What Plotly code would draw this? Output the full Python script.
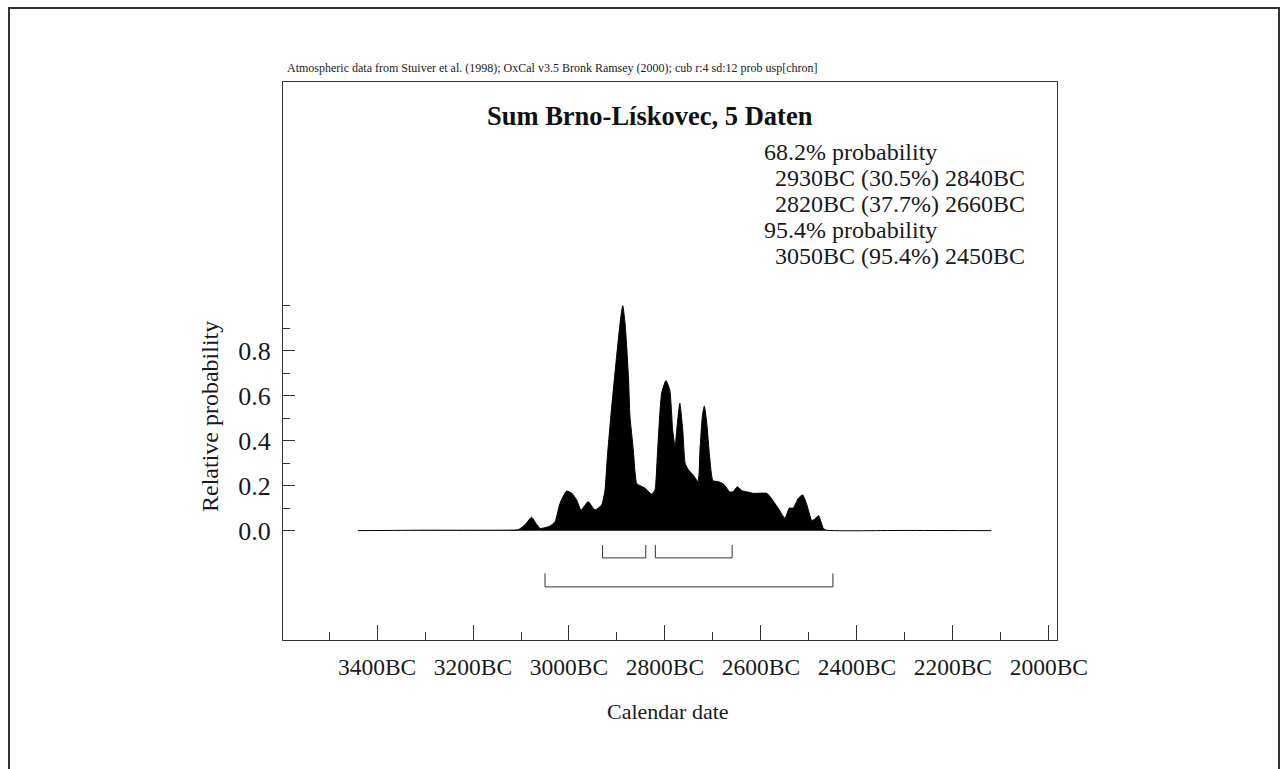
import plotly.graph_objects as go

# ---- data (calendar years BC, relative probability) ----
years_bc = [3440, 3300, 3150, 3105, 3090, 3078, 3068, 3060, 3040, 3029, 3019, 3005, 2994, 2984,
            2975, 2960, 2946, 2932, 2925, 2920, 2911, 2901, 2892, 2888, 2883, 2876, 2873, 2866,
            2859, 2852, 2842, 2828, 2821, 2816, 2807, 2798, 2790, 2784, 2779, 2774, 2769, 2763,
            2758, 2751, 2741, 2731, 2727, 2722, 2718, 2713, 2707, 2700, 2689, 2678, 2665, 2658,
            2649, 2640, 2630, 2616, 2588, 2581, 2564, 2550, 2541, 2533, 2522, 2513, 2505, 2494,
            2487, 2480, 2475, 2470, 2463, 2300, 2120]
rel_prob = [0.0, 0.002, 0.002, 0.005, 0.03, 0.06, 0.03, 0.01, 0.02, 0.04, 0.12, 0.176, 0.166, 0.136,
            0.092, 0.129, 0.092, 0.114, 0.18, 0.33, 0.55, 0.77, 0.95, 1.0, 0.92, 0.68, 0.51, 0.36,
            0.21, 0.20, 0.19, 0.163, 0.18, 0.33, 0.61, 0.667, 0.625, 0.45, 0.373, 0.48, 0.566, 0.45,
            0.30, 0.27, 0.247, 0.218, 0.36, 0.51, 0.554, 0.48, 0.33, 0.222, 0.218, 0.207, 0.173, 0.173,
            0.196, 0.178, 0.173, 0.166, 0.166, 0.151, 0.10, 0.055, 0.10, 0.10, 0.144, 0.159, 0.12, 0.045,
            0.053, 0.067, 0.04, 0.01, 0.002, 0.001, 0.0]

range_68 = [(2930, 2840), (2820, 2660)]
range_95 = [(3050, 2450)]

x_tick_vals = [3400, 3200, 3000, 2800, 2600, 2400, 2200, 2000]
x_tick_text = ["3400BC", "3200BC", "3000BC", "2800BC", "2600BC", "2400BC", "2200BC", "2000BC"]
x_minor_vals = [3500, 3300, 3100, 2900, 2700, 2500, 2300, 2100]
y_tick_vals = [0.0, 0.2, 0.4, 0.6, 0.8]
y_tick_text = ["0.0", "0.2", "0.4", "0.6", "0.8"]
y_minor_vals = [0.1, 0.3, 0.5, 0.7, 0.9, 1.0]

title_text = "Sum Brno-Lískovec, 5 Daten"
header_text = ("Atmospheric data from Stuiver et al. (1998); OxCal v3.5 Bronk Ramsey (2000); "
               "cub r:4 sd:12 prob usp[chron]")
prob_lines = ["68.2% probability", "2930BC (30.5%) 2840BC", "2820BC (37.7%) 2660BC",
              "95.4% probability", "3050BC (95.4%) 2450BC"]
prob_indent = [False, True, True, False, True]

# ---- layout geometry ----
W, H = 1284, 769
L, R, T, B = 283, 1057, 82, 640
FONT = "Liberation Serif, Times New Roman, serif"


def px(x):
    return (x - L) / (R - L)


def py(y):
    return (B - y) / (B - T)


fig = go.Figure()

fig.add_trace(go.Scatter(
    x=years_bc, y=rel_prob, mode="lines", fill="tozeroy",
    fillcolor="black", line=dict(color="black", width=1, shape="spline", smoothing=0.5),
    hoverinfo="skip", showlegend=False))


# probability range brackets
def bracket(a, b, ylow, yhigh):
    return go.Scatter(x=[a, a, b, b], y=[yhigh, ylow, ylow, yhigh], mode="lines",
                      line=dict(color="#333", width=1), hoverinfo="skip", showlegend=False)


for a, b in range_68:
    fig.add_trace(bracket(a, b, -0.121, -0.064))
for a, b in range_95:
    fig.add_trace(bracket(a, b, -0.25, -0.19))

axis_common = dict(showgrid=False, zeroline=False, showline=True, mirror=True,
                   linecolor="#333", linewidth=1, ticks="inside", tickcolor="#333")

fig.update_xaxes(range=[3596, 1983], tickmode="array", tickvals=x_tick_vals, ticktext=x_tick_text,
                 ticklen=15, tickwidth=1, ticklabelstandoff=6,
                 tickfont=dict(family=FONT, size=23.5, color="#1a1a1a"),
                 minor=dict(tickmode="array", tickvals=x_minor_vals, ticklen=8, ticks="inside",
                            tickcolor="#333"),
                 **axis_common)
fig.update_yaxes(range=[-0.486, 1.994], tickmode="array", tickvals=y_tick_vals, ticktext=y_tick_text,
                 ticklen=12, tickwidth=1, ticklabelstandoff=6,
                 tickfont=dict(family=FONT, size=26, color="#1a1a1a"),
                 minor=dict(tickmode="array", tickvals=y_minor_vals, ticklen=7, ticks="inside",
                            tickcolor="#333"),
                 **axis_common)

annotations = [
    dict(text=header_text, x=px(285), y=py(68), xanchor="left", yanchor="middle",
         font=dict(family=FONT, size=12, color="#222")),
    dict(text="<b>" + title_text + "</b>", x=px(650), y=py(116), xanchor="center", yanchor="middle",
         font=dict(family=FONT, size=26.5, color="#111")),
    dict(text="Relative probability", x=px(210), y=py(417), xanchor="center", yanchor="middle",
         textangle=-90, font=dict(family=FONT, size=24, color="#1a1a1a")),
    dict(text="Calendar date", x=px(668), y=py(711), xanchor="center", yanchor="middle",
         font=dict(family=FONT, size=22, color="#1a1a1a")),
]
line_y = [152, 178, 204, 230, 256]
for txt, ind, yy in zip(prob_lines, prob_indent, line_y):
    annotations.append(dict(text=txt, x=px(773 if ind else 762), y=py(yy), xanchor="left",
                            yanchor="middle", font=dict(family=FONT, size=24, color="#1a1a1a")))
for a in annotations:
    a.update(xref="paper", yref="paper", showarrow=False)

fig.update_layout(
    width=W, height=H,
    margin=dict(l=L, r=W - R, t=T, b=H - B),
    paper_bgcolor="white", plot_bgcolor="white",
    annotations=annotations,
    shapes=[dict(type="rect", xref="paper", yref="paper", x0=px(9), x1=px(1279),
                 y0=py(790), y1=py(8), line=dict(color="#333", width=2), layer="below")],
)

fig.write_html("out.html", config={"displayModeBar": False},
               post_script="document.body.style.margin='0';")
